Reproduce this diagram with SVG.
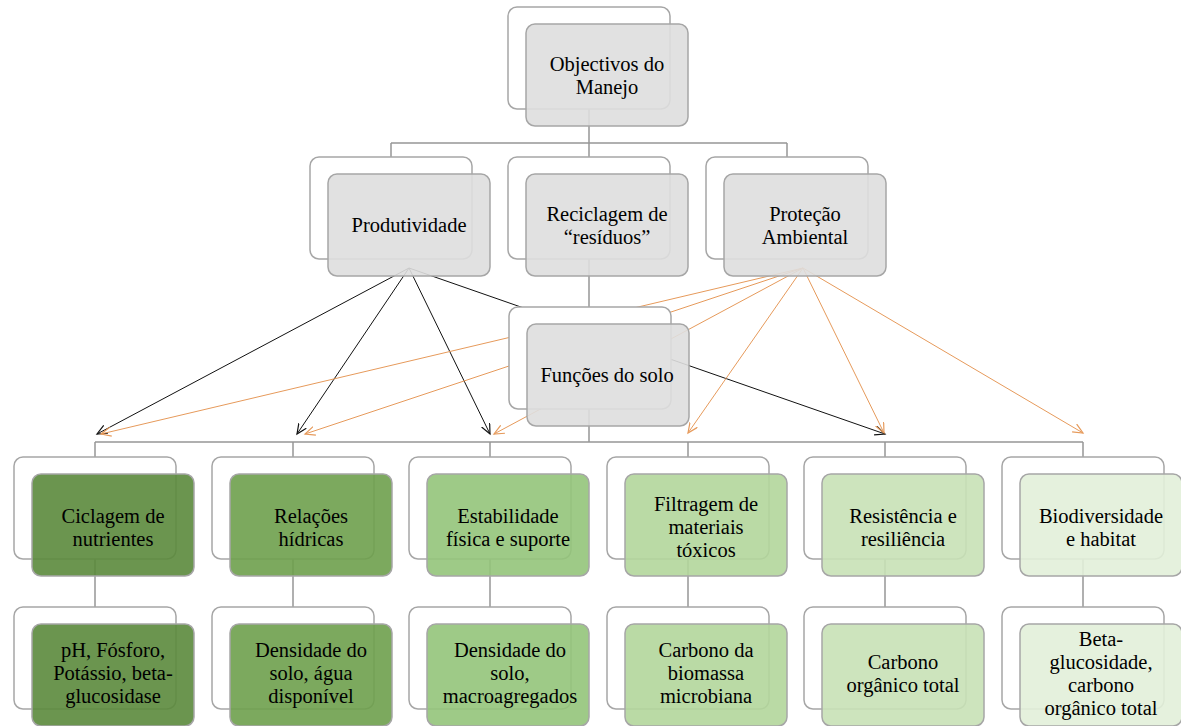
<svg xmlns="http://www.w3.org/2000/svg" width="1181" height="726" viewBox="0 0 1181 726">
<defs>
<style>
.bk{fill:#fff;stroke:#a6a6a6;stroke-width:1.5}
.fr{stroke:#a6a6a6;stroke-width:1.5;fill-opacity:0.9}
.gr{fill:#dedede}
.t{font-family:"Liberation Serif","Times New Roman",serif;font-size:20.5px;fill:#000;text-anchor:middle}
.tree{stroke:#969696;stroke-width:1.5;fill:none}
.ab{stroke:#111;stroke-width:1;fill:none}
.ao{stroke:#e69a5b;stroke-width:1;fill:none}
</style>
<marker id="mb" viewBox="0 0 12 10" refX="10" refY="5" markerWidth="12" markerHeight="10" markerUnits="userSpaceOnUse" orient="auto"><path d="M0,0.5 L10,5 L0,9.5" fill="none" stroke="#111" stroke-width="1.2"/></marker>
<marker id="mo" viewBox="0 0 12 10" refX="10" refY="5" markerWidth="12" markerHeight="10" markerUnits="userSpaceOnUse" orient="auto"><path d="M0,0.5 L10,5 L0,9.5" fill="none" stroke="#e69a5b" stroke-width="1.2"/></marker>
</defs>
<rect width="1181" height="726" fill="#fff"/>
<g id="connectors">
<path class="tree" d="M589,109 V442 M391,143 H787 M391,143 V157 M787,143 V157"/>
<path class="tree" d="M95,442 H1083 M95,442 V457 M293,442 V457 M490,442 V457 M688,442 V457 M885,442 V457 M1083,442 V457"/>
<path class="tree" d="M95,559 V607 M293,559 V607 M490,559 V607 M688,559 V607 M885,559 V607 M1083,559 V607"/>
<g class="ab" marker-end="url(#mb)">
<line x1="409" y1="268" x2="97" y2="434"/>
<line x1="409" y1="268" x2="297" y2="434"/>
<line x1="409" y1="268" x2="490" y2="434"/>
<line x1="409" y1="268" x2="885" y2="434"/>
</g>
<g class="ao" marker-end="url(#mo)">
<line x1="803" y1="268" x2="101" y2="434"/>
<line x1="803" y1="268" x2="305" y2="434"/>
<line x1="803" y1="268" x2="494" y2="434"/>
<line x1="803" y1="268" x2="688" y2="433"/>
<line x1="803" y1="268" x2="884" y2="433"/>
<line x1="803" y1="268" x2="1083" y2="433"/>
</g>
</g>
<g id="objectivos">
<rect class="bk" x="508" y="7" width="162" height="102" rx="9"/>
<rect class="fr gr" x="526" y="24" width="162" height="102" rx="9"/>
<text class="t" y="70.5"><tspan x="607">Objectivos do</tspan><tspan x="607" dy="23">Manejo</tspan></text>
</g>
<g id="produtividade">
<rect class="bk" x="310" y="157" width="162" height="102" rx="9"/>
<rect class="fr gr" x="328" y="174" width="162" height="102" rx="9"/>
<text class="t" x="409" y="232">Produtividade</text>
</g>
<g id="reciclagem">
<rect class="bk" x="508" y="157" width="162" height="102" rx="9"/>
<rect class="fr gr" x="526" y="174" width="162" height="102" rx="9"/>
<text class="t" y="220.5"><tspan x="607">Reciclagem de</tspan><tspan x="607" dy="23">“resíduos”</tspan></text>
</g>
<g id="protecao">
<rect class="bk" x="706" y="157" width="162" height="102" rx="9"/>
<rect class="fr gr" x="724" y="174" width="162" height="102" rx="9"/>
<text class="t" y="220.5"><tspan x="805">Proteção</tspan><tspan x="805" dy="23">Ambiental</tspan></text>
</g>
<g id="funcoes">
<rect class="bk" x="509" y="307" width="162" height="102" rx="9"/>
<rect class="fr gr" x="527" y="324" width="162" height="102" rx="9"/>
<text class="t" x="607" y="382">Funções do solo</text>
</g>
<g id="ciclagem">
<rect class="bk" x="14" y="457" width="162" height="102" rx="9"/>
<rect class="fr" fill="#5b8a3c" x="32" y="474" width="162" height="102" rx="9"/>
<text class="t" y="522.5"><tspan x="113">Ciclagem de</tspan><tspan x="113" dy="23">nutrientes</tspan></text>
</g>
<g id="relacoes">
<rect class="bk" x="212" y="457" width="162" height="102" rx="9"/>
<rect class="fr" fill="#6ea04c" x="230" y="474" width="162" height="102" rx="9"/>
<text class="t" y="522.5"><tspan x="311">Relações</tspan><tspan x="311" dy="23">hídricas</tspan></text>
</g>
<g id="estabilidade">
<rect class="bk" x="409" y="457" width="162" height="102" rx="9"/>
<rect class="fr" fill="#93c47a" x="427" y="474" width="162" height="102" rx="9"/>
<text class="t" y="522.5"><tspan x="508">Estabilidade</tspan><tspan x="508" dy="23">física e suporte</tspan></text>
</g>
<g id="filtragem">
<rect class="bk" x="607" y="457" width="162" height="102" rx="9"/>
<rect class="fr" fill="#b3d69b" x="625" y="474" width="162" height="102" rx="9"/>
<text class="t" y="511"><tspan x="706">Filtragem de</tspan><tspan x="706" dy="23">materiais</tspan><tspan x="706" dy="23">tóxicos</tspan></text>
</g>
<g id="resistencia">
<rect class="bk" x="804" y="457" width="162" height="102" rx="9"/>
<rect class="fr" fill="#c8e1b6" x="822" y="474" width="162" height="102" rx="9"/>
<text class="t" y="522.5"><tspan x="903">Resistência e</tspan><tspan x="903" dy="23">resiliência</tspan></text>
</g>
<g id="biodiversidade">
<rect class="bk" x="1002" y="457" width="162" height="102" rx="9"/>
<rect class="fr" fill="#e2efd9" x="1020" y="474" width="162" height="102" rx="9"/>
<text class="t" y="522.5"><tspan x="1101">Biodiversidade</tspan><tspan x="1101" dy="23">e habitat</tspan></text>
</g>
<g id="ind-ciclagem">
<rect class="bk" x="14" y="607" width="162" height="102" rx="9"/>
<rect class="fr" fill="#5b8a3c" x="32" y="624" width="162" height="102" rx="9"/>
<text class="t" y="657"><tspan x="113">pH, Fósforo,</tspan><tspan x="113" dy="23">Potássio, beta-</tspan><tspan x="113" dy="23">glucosidase</tspan></text>
</g>
<g id="ind-relacoes">
<rect class="bk" x="212" y="607" width="162" height="102" rx="9"/>
<rect class="fr" fill="#6ea04c" x="230" y="624" width="162" height="102" rx="9"/>
<text class="t" y="657"><tspan x="311">Densidade do</tspan><tspan x="311" dy="23">solo, água</tspan><tspan x="311" dy="23">disponível</tspan></text>
</g>
<g id="ind-estabilidade">
<rect class="bk" x="409" y="607" width="162" height="102" rx="9"/>
<rect class="fr" fill="#93c47a" x="427" y="624" width="162" height="102" rx="9"/>
<text class="t" y="657"><tspan x="510">Densidade do</tspan><tspan x="510" dy="23">solo,</tspan><tspan x="510" dy="23">macroagregados</tspan></text>
</g>
<g id="ind-filtragem">
<rect class="bk" x="607" y="607" width="162" height="102" rx="9"/>
<rect class="fr" fill="#b3d69b" x="625" y="624" width="162" height="102" rx="9"/>
<text class="t" y="657"><tspan x="706">Carbono da</tspan><tspan x="706" dy="23">biomassa</tspan><tspan x="706" dy="23">microbiana</tspan></text>
</g>
<g id="ind-resistencia">
<rect class="bk" x="804" y="607" width="162" height="102" rx="9"/>
<rect class="fr" fill="#c8e1b6" x="822" y="624" width="162" height="102" rx="9"/>
<text class="t" y="668.5"><tspan x="903">Carbono</tspan><tspan x="903" dy="23">orgânico total</tspan></text>
</g>
<g id="ind-biodiversidade">
<rect class="bk" x="1002" y="607" width="162" height="102" rx="9"/>
<rect class="fr" fill="#e2efd9" x="1020" y="624" width="162" height="102" rx="9"/>
<text class="t" y="645.5"><tspan x="1101">Beta-</tspan><tspan x="1101" dy="23">glucosidade,</tspan><tspan x="1101" dy="23">carbono</tspan><tspan x="1101" dy="23">orgânico total</tspan></text>
</g>
</svg>
